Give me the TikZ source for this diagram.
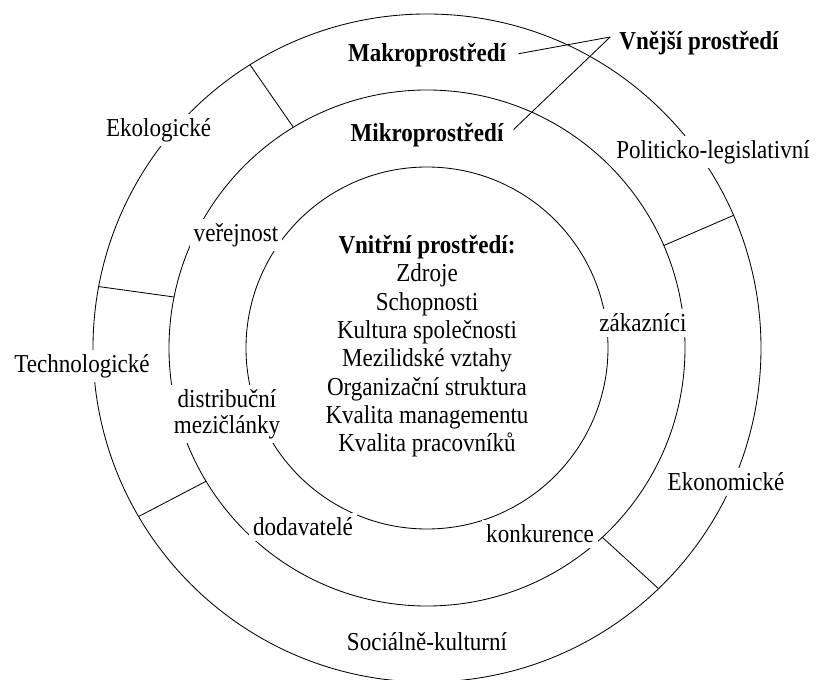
\documentclass[tikz,border=0pt]{standalone}
\usepackage{fontspec}
\setmainfont{Liberation Serif}
\usepackage{tikz}
\usetikzlibrary{calc}
\tikzset{
    ring/.style={ % Sets the properties for each circle and divider
        draw,
        line width=0.6pt
    },
    lbl/.style={ % Labels sit on white, so they cut the circles
        fill=white,
        inner sep=3pt,
        yscale=1.12, % the letters are a bit taller than Times
        font=\fontsize{16.4}{18}\selectfont
    },
    hlbl/.style={
        lbl,
        font=\fontsize{16.4}{18}\selectfont\bfseries
    }
}

\begin{document}
\begin{tikzpicture}
        \useasboundingbox (-10.675,-8.275) rectangle (9.825,8.7);
        % kruhy
        \draw[ring] (0,0) circle (8.35);
        \draw[ring] (0,0) circle (6.45);
        \draw[ring] (0,0) circle (4.525);
        % deleni vnejsiho mezikruzi
        \foreach \a/\b in {121.2/122.0, 168.6/169.4, 211.1/210.3, 312.8/313.9, 23.4/23.4}
            \draw[ring] (\a:6.45) -- (\b:8.35);

        % makroprostredi
        \node[hlbl]                          (makro)    at (0,7.32)       {Makroprostředí};
        \node[hlbl]                          (vnejsi)   at (6.8,7.625)    {Vnější prostředí};
        \node[lbl]                           (eko)      at (-6.71,5.45)   {Ekologické};
        \node[lbl]                           (polit)    at (7.15,4.9)     {Politicko-legislativní};
        \node[lbl]                           (techno)   at (-8.625,-0.45) {Technologické};
        \node[lbl]                           (ekon)     at (7.475,-3.35)  {Ekonomické};
        \node[lbl]                           (soc)      at (0,-7.35)      {Sociálně-kulturní};
        % mikroprostredi
        \node[hlbl]                          (mikro)    at (0,5.325)      {Mikroprostředí};
        \node[lbl]                           (verej)    at (-4.775,2.825) {veřejnost};
        \node[lbl]                           (zakaz)    at (5.4,0.625)    {zákazníci};
        \node[lbl, align=center,
              font=\fontsize{16.4}{16.5}\selectfont] (distr) at (-5.0,-1.65) {distribuční\\mezičlánky};
        \node[lbl]                           (dodav)    at (-3.1,-4.475)  {dodavatelé};
        \node[lbl]                           (konk)     at (2.825,-4.65)  {konkurence};
        % vnitrni prostredi
        \node[lbl, align=center]             (vnitrni)  at (0,0.04)
            {\textbf{Vnitřní prostředí:}\\Zdroje\\Schopnosti\\Kultura společnosti\\
             Mezilidské vztahy\\Organizační struktura\\Kvalita managementu\\Kvalita pracovníků};

        \coordinate (apex) at ($(vnejsi.west)+(-0.12,0.15)$);
        \draw[ring, shorten <=0.2cm] (makro.east) -- (apex);
        \draw[ring, shorten <=0.2cm] (mikro.east) -- (apex);
\end{tikzpicture}
\end{document}
